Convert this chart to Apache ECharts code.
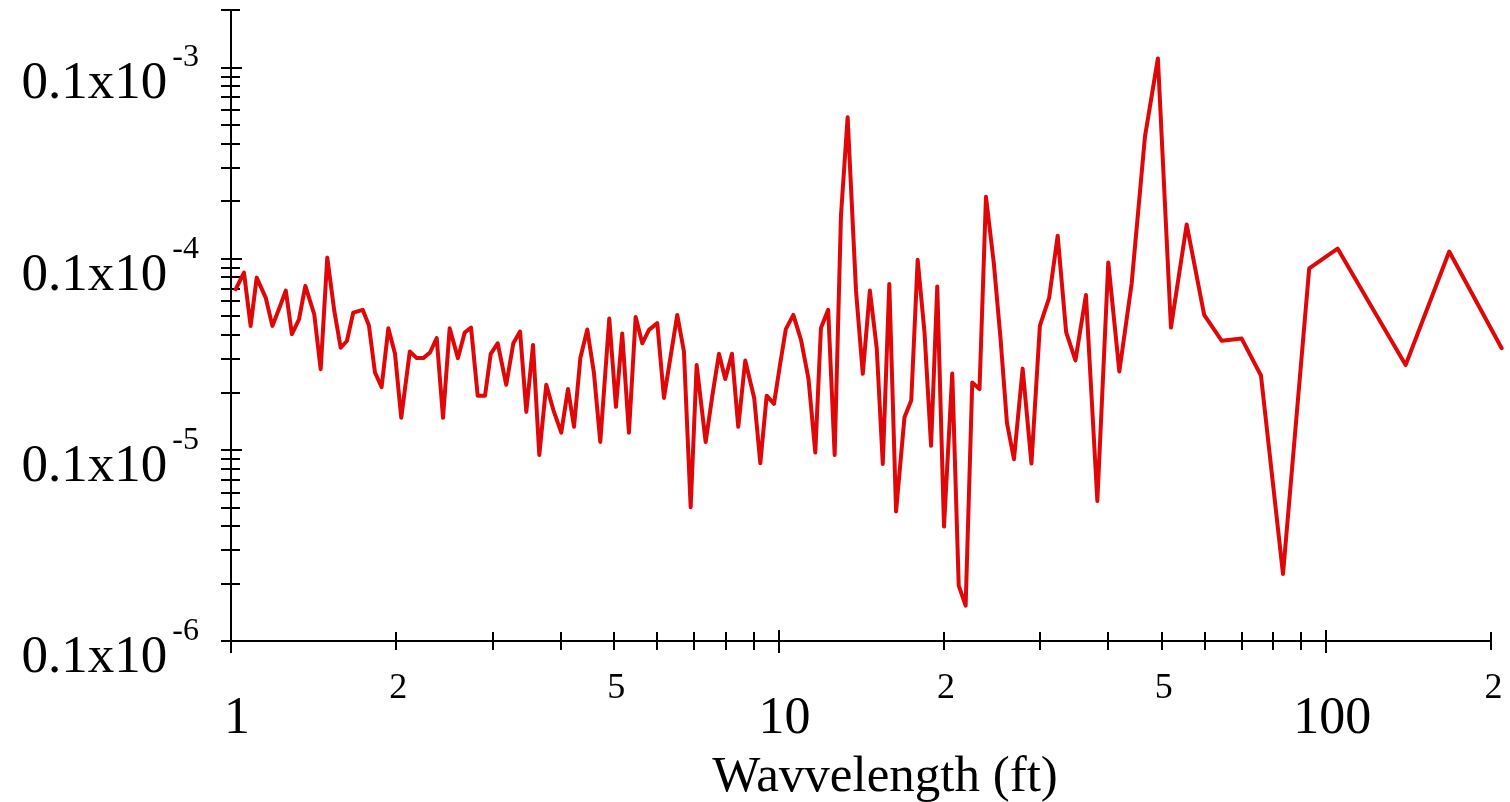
<!DOCTYPE html>
<html>
<head>
<meta charset="utf-8">
<script src="https://cdn.jsdelivr.net/npm/echarts@6/dist/echarts.min.js"></script>
<style>
html,body{margin:0;padding:0;background:#fff;}
#c{width:1510px;height:802px;}
</style>
</head>
<body>
<div id="c"></div>
<script>
// Wavelength (ft) of each spectrum sample
const wavelength = [
  1.020,1.056,1.086,1.114,1.157,1.190,1.225,1.259,1.292,1.331,
  1.367,1.419,1.458,1.499,1.544,1.586,1.628,1.672,1.740,1.786,
  1.832,1.884,1.938,1.993,2.046,2.121,2.184,2.245,2.309,2.375,
  2.439,2.508,2.597,2.672,2.744,2.822,2.910,2.981,3.069,3.182,
  3.278,3.372,3.462,3.561,3.656,3.765,3.878,4.010,4.125,4.231,
  4.345,4.474,4.601,4.725,4.907,5.047,5.182,5.330,5.483,5.638,
  5.799,6.005,6.176,6.531,6.717,6.910,7.086,7.360,7.567,7.783,
  7.992,8.220,8.441,8.693,9.028,9.261,9.513,9.809,10.06,10.31,
  10.64,10.99,11.34,11.67,11.95,12.32,12.66,13.00,13.37,13.85,
  14.25,14.68,15.11,15.50,15.93,16.39,16.98,17.47,17.95,18.47,
  18.99,19.49,20.05,20.76,21.33,21.96,22.58,23.28,23.92,24.72,
  25.42,26.13,26.91,27.91,28.96,30.01,31.20,32.34,33.51,34.85,
  36.42,38.21,40.01,41.91,44.14,46.68,49.29,52.07,55.63,59.88,
  64.48,70.11,76.03,83.41,93.13,104.95,119.2,139.7,167.8,209.2
];
// Spectral power at each wavelength
const power = [
  6.92e-6,8.46e-6,4.45e-6,7.96e-6,6.26e-6,4.45e-6,5.51e-6,6.81e-6,4.03e-6,4.82e-6,
  7.21e-6,5.12e-6,2.64e-6,1.013e-5,5.33e-6,3.42e-6,3.71e-6,5.22e-6,5.40e-6,4.47e-6,
  2.54e-6,2.13e-6,4.33e-6,3.18e-6,1.47e-6,3.27e-6,3.02e-6,3.02e-6,3.23e-6,3.84e-6,
  1.47e-6,4.33e-6,3.02e-6,4.11e-6,4.36e-6,1.92e-6,1.92e-6,3.18e-6,3.61e-6,2.19e-6,
  3.61e-6,4.16e-6,1.58e-6,3.54e-6,9.40e-7,2.19e-6,1.62e-6,1.23e-6,2.08e-6,1.32e-6,
  3.02e-6,4.26e-6,2.52e-6,1.10e-6,4.86e-6,1.68e-6,4.06e-6,1.23e-6,4.96e-6,3.61e-6,
  4.24e-6,4.60e-6,1.87e-6,5.08e-6,3.27e-6,5.01e-7,2.78e-6,1.10e-6,1.91e-6,3.18e-6,
  2.35e-6,3.18e-6,1.32e-6,2.93e-6,1.86e-6,8.51e-7,1.92e-6,1.74e-6,2.78e-6,4.28e-6,
  5.08e-6,3.76e-6,2.36e-6,9.68e-7,4.34e-6,5.40e-6,9.40e-7,1.68e-5,5.49e-5,6.78e-6,
  2.50e-6,6.81e-6,3.41e-6,8.44e-7,7.38e-6,4.76e-7,1.48e-6,1.81e-6,9.86e-6,4.14e-6,
  1.05e-6,7.16e-6,3.97e-7,2.51e-6,1.95e-7,1.53e-7,2.25e-6,2.08e-6,2.11e-5,9.51e-6,
  3.88e-6,1.38e-6,8.93e-7,2.66e-6,8.48e-7,4.46e-6,6.24e-6,1.32e-5,4.13e-6,2.94e-6,
  6.46e-6,5.40e-7,9.56e-6,2.57e-6,7.42e-6,4.35e-5,1.116e-4,4.36e-6,1.51e-5,5.08e-6,
  3.72e-6,3.82e-6,2.45e-6,2.24e-7,8.89e-6,1.13e-5,6.04e-6,2.78e-6,1.09e-5,3.40e-6
];

// Axis ranges (the drawn x axis ends at 200; the data run a little past it)
const xMin = 1, xMax = 200, xDataMax = 209.5;
const yMin = 1e-7, yMax = 2e-4;

// X ticks and labels
const xTicks = [1,2,3,4,5,6,7,8,9,10,20,30,40,50,60,70,80,90,100,200];
const xMajorTicks = [1,10,100];
const xLabelValues = [1,2,5,10,20,50,100,200];
const xLabelTexts  = ['1','2','5','10','2','5','100','2'];
const xLabelBig    = [true,false,false,true,false,false,true,false];

// Y ticks and labels
const yTicks = [
  1e-7,2e-7,3e-7,4e-7,5e-7,6e-7,7e-7,8e-7,9e-7,
  1e-6,2e-6,3e-6,4e-6,5e-6,6e-6,7e-6,8e-6,9e-6,
  1e-5,2e-5,3e-5,4e-5,5e-5,6e-5,7e-5,8e-5,9e-5,
  1e-4,2e-4
];
const yMajorTicks = [1e-7,1e-6,1e-5,1e-4];
const yLabelValues = [1e-7,1e-6,1e-5,1e-4];
const yLabelBase = '0.1x10';
const yLabelExp = ['-6','-5','-4','-3'];

const xAxisTitle = 'Wavvelength (ft)';

const lg = Math.log10;
const FONT = 'Liberation Serif';
const INK = '#000';
const tickLine = {color: INK, width: 2};

function findIndex(vals, v) {
  for (let i = 0; i < vals.length; i++) {
    if (Math.abs(lg(vals[i]) - v) < 1e-6) return i;
  }
  return -1;
}

function xTickAxis(values, inside, length, withLabels) {
  const ax = {
    type: 'value', gridIndex: 0, position: 'bottom', min: lg(xMin), max: lg(xDataMax),
    axisLine: {show: false, onZero: false},
    axisTick: {show: true, inside: inside, length: length, customValues: values.map(lg), lineStyle: tickLine},
    axisLabel: {show: false},
    splitLine: {show: false}
  };
  if (withLabels) {
    ax.axisLabel = {
      show: true, margin: 30,
      customValues: xLabelValues.map(lg),
      formatter: function (v) {
        const i = findIndex(xLabelValues, v);
        if (i < 0) return '';
        return xLabelBig[i] ? '{b|' + xLabelTexts[i] + '}' : '{s|' + xLabelTexts[i] + '}';
      },
      rich: {
        b: {fontFamily: FONT, fontSize: 52, lineHeight: 52, color: INK, padding: [45, 0, 0, 12]},
        s: {fontFamily: FONT, fontSize: 36, lineHeight: 36, color: INK, padding: [0, 0, 0, 5]}
      }
    };
  }
  return ax;
}

function yTickAxis(values, inside, length, withLabels) {
  const ax = {
    type: 'value', gridIndex: 0, position: 'left', min: lg(yMin), max: lg(yMax),
    axisLine: {show: false, onZero: false},
    axisTick: {show: true, inside: inside, length: length, customValues: values.map(lg), lineStyle: tickLine},
    axisLabel: {show: false},
    splitLine: {show: false}
  };
  if (withLabels) {
    ax.axisLabel = {
      show: true, margin: 32, padding: [18, 0, 0, 0],
      customValues: yLabelValues.map(lg),
      formatter: function (v) {
        const i = findIndex(yLabelValues, v);
        if (i < 0) return '';
        return '{b|' + yLabelBase + '}{s|' + yLabelExp[i] + '}';
      },
      rich: {
        b: {fontFamily: FONT, fontSize: 53, color: INK, padding: [16, 0, 0, 0], verticalAlign: 'bottom'},
        s: {fontFamily: FONT, fontSize: 32, color: INK, verticalAlign: 'top', padding: [0, 0, 0, 5]}
      }
    };
  }
  return ax;
}

const chart = echarts.init(document.getElementById('c'), null, {renderer: 'canvas'});
chart.setOption({
  animation: false,
  backgroundColor: '#fff',
  grid: [
    {left: 231, right: 8, top: 10, bottom: 161, containLabel: false, outerBoundsMode: 'none'},
    {left: 231, right: 19, top: 10, bottom: 161, containLabel: false, outerBoundsMode: 'none'}
  ],
  xAxis: [
    {
      type: 'log', logBase: 10, gridIndex: 0, position: 'bottom', min: xMin, max: xDataMax,
      axisLine: {show: false, onZero: false},
      axisTick: {show: false}, axisLabel: {show: false},
      splitLine: {show: false}, minorTick: {show: false}, minorSplitLine: {show: false},
      name: xAxisTitle, nameLocation: 'middle', nameGap: 111,
      nameTextStyle: {fontFamily: FONT, fontSize: 51, color: INK, padding: [0, 0, 0, 37]}
    },
    xTickAxis(xTicks, false, 9, true),
    xTickAxis(xTicks, true, 9, false),
    xTickAxis(xMajorTicks, false, 12, false),
    xTickAxis(xMajorTicks, true, 11, false),
    {
      type: 'value', gridIndex: 1, position: 'bottom', min: lg(xMin), max: lg(xMax),
      axisLine: {show: true, onZero: false, lineStyle: {color: INK, width: 2}},
      axisTick: {show: false}, axisLabel: {show: false}, splitLine: {show: false}
    }
  ],
  yAxis: [
    {
      type: 'log', logBase: 10, gridIndex: 0, position: 'left', min: yMin, max: yMax,
      axisLine: {show: true, onZero: false, lineStyle: {color: INK, width: 2}},
      axisTick: {show: false}, axisLabel: {show: false},
      splitLine: {show: false}, minorTick: {show: false}, minorSplitLine: {show: false}
    },
    yTickAxis(yTicks, false, 10, true),
    yTickAxis(yTicks, true, 9, false),
    yTickAxis(yMajorTicks, true, 11, false),
    {
      type: 'value', gridIndex: 1, position: 'left', min: lg(yMin), max: lg(yMax), show: false
    }
  ],
  series: [{
    type: 'line',
    xAxisIndex: 0, yAxisIndex: 0,
    data: wavelength.map(function (x, i) { return [x, power[i]]; }),
    showSymbol: false, symbol: 'none', clip: false, smooth: false,
    lineStyle: {color: '#df0707', width: 4, cap: 'round', join: 'round'}
  }]
});
</script>
</body>
</html>
